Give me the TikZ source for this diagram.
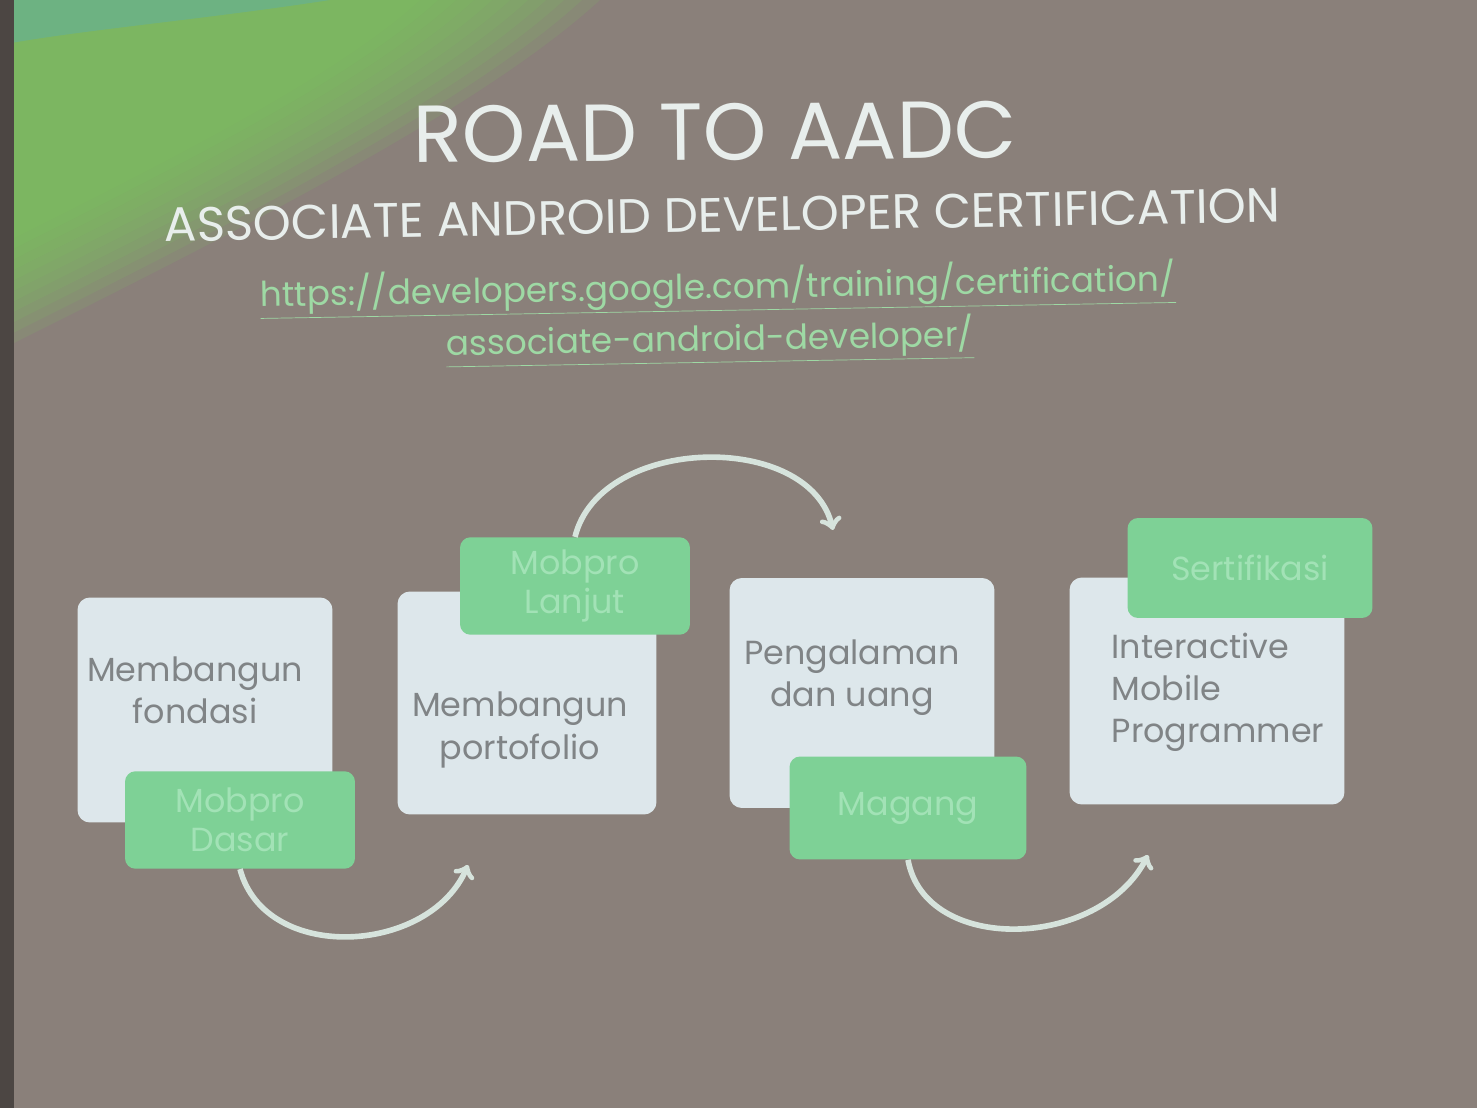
\documentclass[tikz,border=0pt]{standalone}
\usepackage{fontspec}
\setmainfont{Poppins}
\usepackage{xcolor}
\usepackage{tikz}

\definecolor{slidebg}{HTML}{8A807A}
\definecolor{boxfill}{HTML}{DDE7EB}
\definecolor{tabfill}{HTML}{7ED196}
\definecolor{tabtext}{HTML}{A2E2B6}
\definecolor{stepgray}{HTML}{808486}
\definecolor{urlgreen}{HTML}{9ED9A4}
\definecolor{titlewhite}{HTML}{E8EEEC}
\definecolor{arrowcol}{HTML}{D6E3DC}
\definecolor{glowgreen}{HTML}{7CC95E}
\definecolor{glowteal}{HTML}{5FB0A4}

\begin{document}
\begin{tikzpicture}[x=0.02cm, y=-0.02cm,
    stepbox/.style={fill=boxfill, rounded corners=7pt, inner sep=0pt},
    tabbox/.style={fill=tabfill, rounded corners=6pt, minimum width=4.6cm, minimum height=1.95cm,
      align=center, text=tabtext, font=\fontsize{19}{22}\selectfont},
    steptext/.style={text=stepgray, align=center, font=\fontsize{19}{24}\selectfont},
    heading/.style={text=titlewhite, inner sep=0pt},
    link/.style={text=urlgreen, inner sep=0pt, font=\fontsize{19.5}{22}\selectfont, rotate=1},
    curved/.style={->, draw=arrowcol, line width=3.2pt}
  ]
    % Background of the slide
    \fill[slidebg] (0,0) rectangle (1477,1108);
    \foreach \s in {1.00,0.97,...,0.70}
      \fill[glowgreen, opacity=0.13, scale=\s]
        (0,0) -- (600,0) .. controls (480,110) and (230,235) .. (0,350) -- cycle;
    \fill[glowteal, opacity=0.5] (0,0) -- (330,0) .. controls (200,20) and (80,30) .. (0,45) -- cycle;
    \fill[black!45!slidebg] (0,0) rectangle (14,1108);

    % Titles
    \node[heading, font=\fontsize{46}{50}\selectfont, rotate=0.5] (title) at (715,132) {ROAD TO AADC};
    \node[heading, font=\fontsize{27.5}{30}\selectfont, rotate=1] (subtitle) at (722,215) {ASSOCIATE ANDROID DEVELOPER CERTIFICATION};
    \node[link] (url1) at (718,289) {\underline{https://developers.google.com/training/certification/}};
    \node[link] (url2) at (710,341) {\underline{associate-android-developer/}};

    % Draw the boxes
    \node[stepbox, minimum width=5.1cm, minimum height=4.5cm] (fondasi) at (205,710) {};
    \node[stepbox, minimum width=5.18cm, minimum height=4.46cm] (portofolio) at (527,703) {};
    \node[stepbox, minimum width=5.3cm, minimum height=4.6cm] (pengalaman) at (862,693) {};
    \node[stepbox, minimum width=5.5cm, minimum height=4.54cm] (programmer) at (1207,691) {};

    % Labels inside the boxes
    \node[steptext] (tfondasi) at (195,690) {Membangun\\fondasi};
    \node[steptext] (tportofolio) at (520,730) {Membangun\\portofolio};
    \node[steptext] (tpengalaman) at (852,678) {Pengalaman\\dan uang};
    \node[steptext, align=left] (tprogrammer) at (1218,692) {Interactive\\Mobile\\Programmer};

    % Green tabs
    \node[tabbox] (dasar) at (240,820) {Mobpro\\Dasar};
    \node[tabbox] (lanjut) at (575,586) {Mobpro\\Lanjut};
    \node[tabbox, minimum width=4.74cm, minimum height=2.06cm] (magang) at (908,808) {Magang};
    \node[tabbox, minimum width=4.9cm, minimum height=2cm] (sertifikasi) at (1250,568) {Sertifikasi};

    % Curved arrows between the steps
    \coordinate (tip1) at (468,865);
    \coordinate (tip2) at (833,530);
    \coordinate (tip3) at (1148,855);
    \draw[curved] (dasar.south) .. controls +(25,95) and +(-38,90) .. (tip1);
    \draw[curved] (lanjut.north) .. controls +(25,-102) and +(-23,-100) .. (tip2);
    \draw[curved] (magang.south) .. controls +(17,95) and +(-48,95) .. (tip3);
\end{tikzpicture}
\end{document}
